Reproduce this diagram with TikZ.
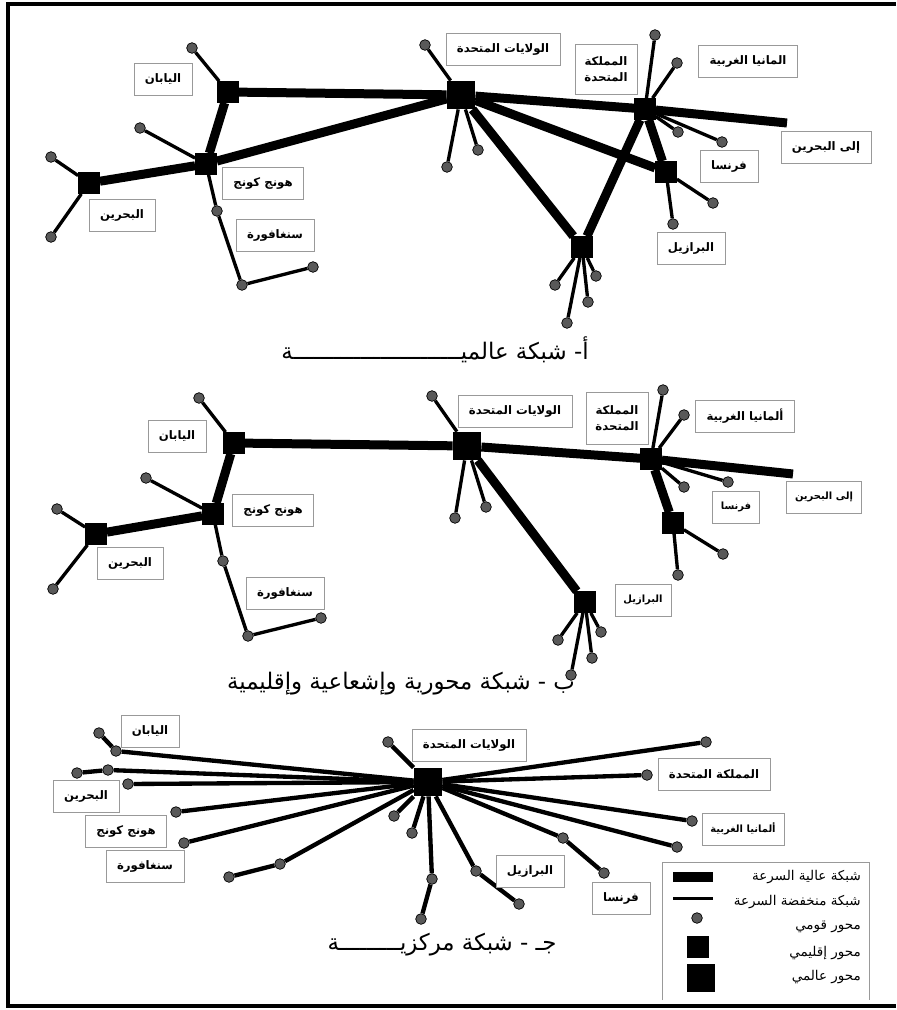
\documentclass[tikz,border=0pt]{standalone}
\usepackage{fontspec}
\newfontfamily\arabicfont[Script=Arabic]{DejaVu Sans}
\TeXXeTstate=1
\newcommand{\artxt}[1]{\beginR #1\endR}
\tikzset{
  fast/.style={line width=0.27cm},
  slow/.style={line width=0.1cm},
  spoke/.style={line width=0.13cm},
  dot/.style={circle, draw=black, fill=black!65, line width=0.6pt, minimum size=0.32cm, inner sep=0},
  reghub/.style={rectangle, fill=black, minimum size=0.64cm, inner sep=0},
  glohub/.style={rectangle, fill=black, minimum size=0.85cm, inner sep=0},
  lbl/.style={draw=black!40, fill=white, font=\arabicfont\bfseries\fontsize{10}{14}\selectfont, inner xsep=0.33cm, minimum height=0.96cm, align=center},
  smalllbl/.style={lbl, font=\arabicfont\bfseries\fontsize{8.5}{12}\selectfont, inner xsep=0.25cm},
  ttl/.style={font=\arabicfont\fontsize{19.5}{22}\selectfont},
  lgtxt/.style={font=\arabicfont\fontsize{11.5}{13}\selectfont, anchor=east, inner sep=0},
}

\begin{document}
\begin{tikzpicture}[x=0.03cm, y=-0.03cm]
  \useasboundingbox (0,0) rectangle (896,1010);
  \draw[line width=0.12cm] (896,4) -| (8,1006) -- (896,1006);

  % a - global network
  \begin{scope}
    \node[reghub] at (228,92) (jpA) {};
    \node[reghub] at (206,164) (hkA) {};
    \node[reghub] at (89,183) (bhA) {};
    \node[glohub] at (461,95) (usA) {};
    \node[reghub] at (645,109) (ukA) {};
    \node[reghub] at (666,172) (frA) {};
    \node[reghub] at (582,247) (brA) {};
    \coordinate (endA) at (787,123);

    \draw[fast] (jpA) -- (usA) -- (ukA) -- (endA);
    \draw[fast] (bhA) -- (hkA) -- (usA);
    \draw[fast] (hkA) -- (jpA);
    \draw[fast] (usA) -- (frA) -- (ukA) -- (brA) -- (usA);

    \foreach \hub/\pts in {jpA/{192/48}, hkA/{140/128}, bhA/{51/157, 51/237},
        usA/{425/45, 447/167, 478/150}, ukA/{655/35, 677/63, 678/132, 722/142},
        frA/{713/203, 673/224}, brA/{555/285, 596/276, 588/302, 567/323}} {
      \foreach \x/\y [count=\i] in \pts {
        \node[dot] at (\x,\y) (\hub d\i) {};
        \draw[slow] (\hub) -- (\hub d\i);
      }
    }
    \node[dot] at (217,211) (sgA1) {};
    \node[dot] at (242,285) (sgA2) {};
    \node[dot] at (313,267) (sgA3) {};
    \draw[slow] (hkA) -- (sgA1) -- (sgA2) -- (sgA3);

    \node[lbl] at (163,79) (jpAl) {\artxt{اليابان}};
    \node[lbl] at (263,183) (hkAl) {\artxt{هونج كونج}};
    \node[lbl] at (122,215) (bhAl) {\artxt{البحرين}};
    \node[lbl] at (275,235) (sgAl) {\artxt{سنغافورة}};
    \node[lbl] at (503,49) (usAl) {\artxt{الولايات المتحدة}};
    \node[lbl, minimum height=1.5cm, inner xsep=0.28cm] at (606,69) (ukAl) {\artxt{المملكة}\\\artxt{المتحدة}};
    \node[lbl] at (748,61) (deAl) {\artxt{المانيا الغربية}};
    \node[lbl] at (826,147) (endAl) {\artxt{إلى البحرين}};
    \node[lbl] at (729,166) (frAl) {\artxt{فرنسا}};
    \node[lbl] at (691,248) (brAl) {\artxt{البرازيل}};

    \node[ttl] at (435,350) (ttlA) {\artxt{أ- شبكة عالميـــــــــــــــــــــــــة}};
  \end{scope}

  % b - hub, spoke and regional network
  \begin{scope}
    \node[reghub] at (234,443) (jpB) {};
    \node[reghub] at (213,514) (hkB) {};
    \node[reghub] at (96,534) (bhB) {};
    \node[glohub] at (467,446) (usB) {};
    \node[reghub] at (651,459) (ukB) {};
    \node[reghub] at (673,523) (frB) {};
    \node[reghub] at (585,602) (brB) {};
    \coordinate (endB) at (793,474);

    \draw[fast] (jpB) -- (usB) -- (ukB) -- (endB);
    \draw[fast] (bhB) -- (hkB) -- (jpB);
    \draw[fast] (usB) -- (brB);
    \draw[fast] (ukB) -- (frB);

    \foreach \hub/\pts in {jpB/{199/398}, hkB/{146/478}, bhB/{57/509, 53/589},
        usB/{432/396, 455/518, 486/507}, ukB/{663/390, 684/415, 684/487, 728/482},
        frB/{723/554, 678/575}, brB/{558/640, 601/632, 592/658, 571/675}} {
      \foreach \x/\y [count=\i] in \pts {
        \node[dot] at (\x,\y) (\hub d\i) {};
        \draw[slow] (\hub) -- (\hub d\i);
      }
    }
    \node[dot] at (223,561) (sgB1) {};
    \node[dot] at (248,636) (sgB2) {};
    \node[dot] at (321,618) (sgB3) {};
    \draw[slow] (hkB) -- (sgB1) -- (sgB2) -- (sgB3);

    \node[lbl] at (177,436) (jpBl) {\artxt{اليابان}};
    \node[lbl] at (273,510) (hkBl) {\artxt{هونج كونج}};
    \node[lbl] at (130,563) (bhBl) {\artxt{البحرين}};
    \node[lbl] at (285,593) (sgBl) {\artxt{سنغافورة}};
    \node[lbl] at (515,411) (usBl) {\artxt{الولايات المتحدة}};
    \node[lbl, minimum height=1.55cm, inner xsep=0.28cm] at (617,418) (ukBl) {\artxt{المملكة}\\\artxt{المتحدة}};
    \node[lbl] at (745,416) (deBl) {\artxt{ألمانيا الغربية}};
    \node[smalllbl] at (824,497) (endBl) {\artxt{إلى البحرين}};
    \node[smalllbl] at (736,507) (frBl) {\artxt{فرنسا}};
    \node[smalllbl] at (643,600) (brBl) {\artxt{البرازيل}};

    \node[ttl] at (401,684) (ttlB) {\artxt{ب - شبكة محورية وإشعاعية وإقليمية}};
  \end{scope}

  % c - central network
  \begin{scope}
    \node[glohub] at (428,782) (usC) {};
    \foreach \x/\y [count=\i] in {706/742, 647/775, 692/821, 677/847, 388/742,
        394/816, 412/833, 128/784, 176/812, 184/843} {
      \node[dot] at (\x,\y) (cs\i) {};
      \draw[spoke] (usC) -- (cs\i);
    }
    \foreach \x/\y/\u/\v [count=\i] in {563/838/604/873, 476/871/519/904,
        432/879/421/919, 116/751/99/733, 108/770/77/773, 280/864/229/877} {
      \node[dot] at (\x,\y) (ca\i) {};
      \node[dot] at (\u,\v) (cb\i) {};
      \draw[spoke] (usC) -- (ca\i) -- (cb\i);
    }

    \node[lbl] at (469,745) (usCl) {\artxt{الولايات المتحدة}};
    \node[lbl] at (150,731) (jpCl) {\artxt{اليابان}};
    \node[lbl] at (86,796) (bhCl) {\artxt{البحرين}};
    \node[lbl] at (126,831) (hkCl) {\artxt{هونج كونج}};
    \node[lbl] at (145,866) (sgCl) {\artxt{سنغافورة}};
    \node[lbl] at (714,774) (ukCl) {\artxt{المملكة المتحدة}};
    \node[smalllbl] at (743,829) (deCl) {\artxt{ألمانيا الغربية}};
    \node[lbl] at (530,871) (brCl) {\artxt{البرازيل}};
    \node[lbl] at (621,898) (frCl) {\artxt{فرنسا}};

    \node[ttl] at (442,945) (ttlC) {\artxt{جـ - شبكة مركزيـــــــــة}};
  \end{scope}

  % legend
  \draw[black!40, line width=0.6pt] (662,1000) |- (869,862) -- (869,1000);
  \node[fill=black, minimum width=1.2cm, minimum height=0.28cm, inner sep=0] at (693,877) (lgFast) {};
  \node[fill=black, minimum width=1.2cm, minimum height=0.09cm, inner sep=0] at (693,898) (lgSlow) {};
  \node[dot] at (697,918) (lgDot) {};
  \node[reghub] at (698,947) (lgReg) {};
  \node[glohub] at (701,978) (lgGlo) {};
  \node[lgtxt] at (861,877) (lgFastT) {\artxt{شبكة عالية السرعة}};
  \node[lgtxt] at (861,902) (lgSlowT) {\artxt{شبكة منخفضة السرعة}};
  \node[lgtxt] at (861,927) (lgDotT) {\artxt{محور قومي}};
  \node[lgtxt] at (861,953) (lgRegT) {\artxt{محور إقليمي}};
  \node[lgtxt] at (861,977) (lgGloT) {\artxt{محور عالمي}};
\end{tikzpicture}
\end{document}
